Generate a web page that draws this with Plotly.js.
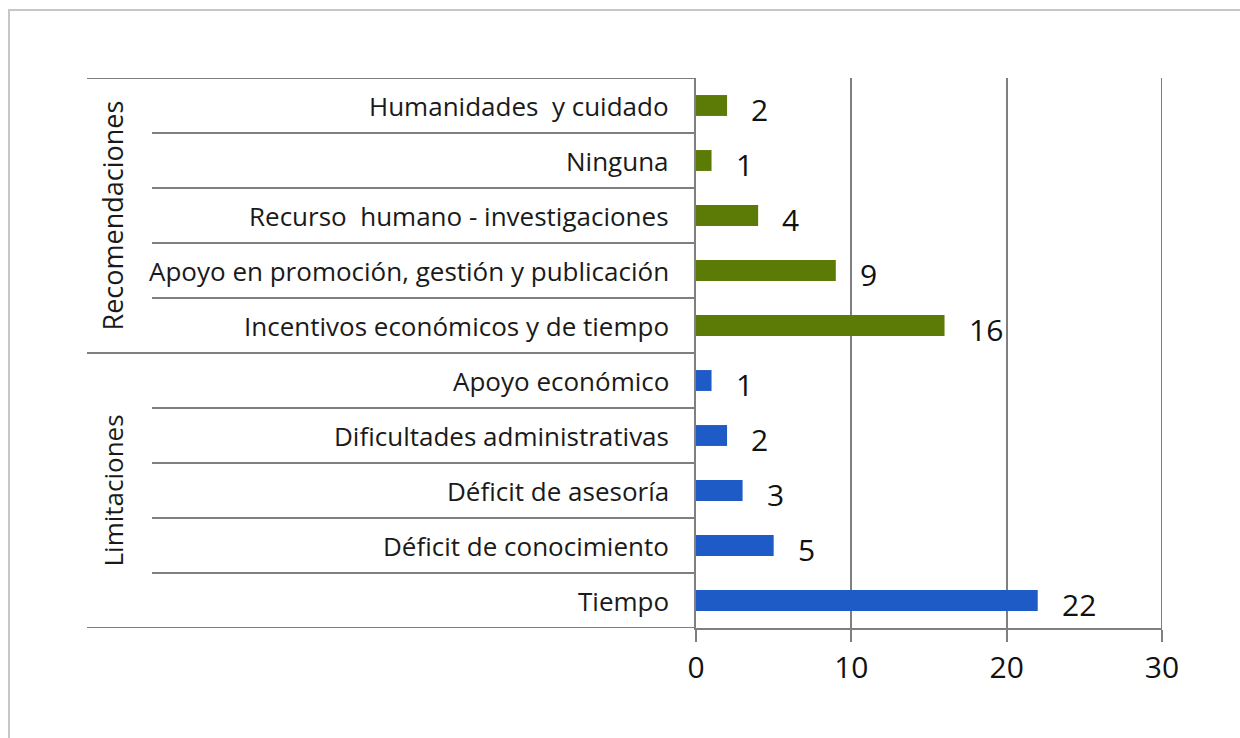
<!DOCTYPE html>
<html>
<head>
<meta charset="utf-8">
<script src="https://cdn.plot.ly/plotly-3.0.1.min.js"></script>
<style>html,body{margin:0;padding:0;background:#fff;}#chart{width:1240px;height:738px;}</style>
</head>
<body>
<div id="chart"></div>
<script>
// Data (bottom to top)
const limitaciones = ["Tiempo", "Déficit de conocimiento", "Déficit de asesoría", "Dificultades administrativas", "Apoyo económico"];
const limitacionesValues = [22, 5, 3, 2, 1];
const recomendaciones = ["Incentivos económicos y de tiempo", "Apoyo en promoción, gestión y publicación", "Recurso  humano - investigaciones", "Ninguna", "Humanidades  y cuidado"];
const recomendacionesValues = [16, 9, 4, 1, 2];
const groupLabels = ["Limitaciones", "Recomendaciones"];
const xTicks = [0, 10, 20, 30];

const allCats = limitaciones.concat(recomendaciones);
const FONT = "Open Sans, Noto Sans, sans-serif";
const L = 696, R = 1162, T = 78, B = 628;
const px = v => (v - L) / (R - L);
const py = v => (B - v) / (B - T);

const traces = [
  {type: "bar", orientation: "h", y: limitaciones, x: limitacionesValues,
   marker: {color: "#1f5bc6"}, width: 0.38, hoverinfo: "x+y"},
  {type: "bar", orientation: "h", y: recomendaciones, x: recomendacionesValues,
   marker: {color: "#5b7a06"}, width: 0.38, hoverinfo: "x+y"}
];

const annotations = [];
// category labels
allCats.forEach(c => annotations.push({
  xref: "paper", yref: "y", x: px(671), y: c, text: c, showarrow: false,
  xanchor: "right", yanchor: "middle", font: {family: FONT, size: 26, color: "#1a1a1a"}
}));
// value labels
limitaciones.forEach((c, i) => annotations.push({
  xref: "x", yref: "y", x: limitacionesValues[i], y: c, text: String(limitacionesValues[i]),
  showarrow: false, xanchor: "left", yanchor: "middle", xshift: 22, yshift: -4,
  font: {family: FONT, size: 30, color: "#111"}
}));
recomendaciones.forEach((c, i) => annotations.push({
  xref: "x", yref: "y", x: recomendacionesValues[i], y: c, text: String(recomendacionesValues[i]),
  showarrow: false, xanchor: "left", yanchor: "middle", xshift: 22, yshift: -4,
  font: {family: FONT, size: 30, color: "#111"}
}));
// group labels
annotations.push({xref: "paper", yref: "y", x: px(112), y: 2, text: groupLabels[0], textangle: -90,
  showarrow: false, xanchor: "center", yanchor: "middle", font: {family: FONT, size: 26, color: "#1a1a1a"}});
annotations.push({xref: "paper", yref: "y", x: px(112), y: 7, text: groupLabels[1], textangle: -90,
  showarrow: false, xanchor: "center", yanchor: "middle", font: {family: FONT, size: 27, color: "#1a1a1a"}});

const lineStyle = {color: "#7f7f7f", width: 2};
const shapes = [];
// outer frame
shapes.push({type: "rect", xref: "paper", yref: "paper", x0: px(9), x1: px(1260), y0: py(760), y1: py(10),
  line: {color: "#c4c6cc", width: 2}, layer: "below"});
// full-width lines
[-0.5, 4.5, 9.5].forEach(y => shapes.push({type: "line", xref: "paper", yref: "y",
  x0: px(87), x1: 0, y0: y, y1: y, line: lineStyle}));
// inner row lines
[0.5, 1.5, 2.5, 3.5, 5.5, 6.5, 7.5, 8.5].forEach(y => shapes.push({type: "line", xref: "paper", yref: "y",
  x0: px(152), x1: 0, y0: y, y1: y, line: lineStyle}));
// right-most gridline at the last tick
shapes.push({type: "line", xref: "x", yref: "y", x0: xTicks[xTicks.length - 1], x1: xTicks[xTicks.length - 1],
  y0: -0.5, y1: 9.5, line: lineStyle});

const layout = {
  width: 1240, height: 738,
  margin: {l: L, r: 1240 - R, t: T, b: 738 - B},
  paper_bgcolor: "#ffffff", plot_bgcolor: "#ffffff",
  showlegend: false,
  xaxis: {range: [0, 30], tickvals: xTicks, ticktext: xTicks.map(String),
    showgrid: true, gridcolor: "#7f7f7f", gridwidth: 2, zeroline: false,
    showline: true, linecolor: "#7f7f7f", linewidth: 2,
    ticks: "outside", ticklen: 12, tickwidth: 2, tickcolor: "#7f7f7f",
    tickfont: {family: FONT, size: 30, color: "#111"}, fixedrange: true},
  yaxis: {type: "category", categoryorder: "array", categoryarray: allCats,
    range: [-0.5, 9.5], showticklabels: false, showgrid: false, zeroline: false,
    showline: true, linecolor: "#7f7f7f", linewidth: 2, ticks: "", fixedrange: true},
  annotations: annotations,
  shapes: shapes
};

Plotly.newPlot("chart", traces, layout, {displayModeBar: false, staticPlot: true});
</script>
</body>
</html>
